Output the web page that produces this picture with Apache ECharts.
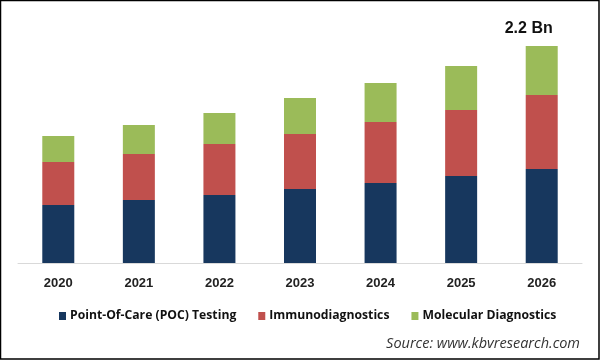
<!DOCTYPE html>
<html><head><meta charset="utf-8">
<script src="https://cdn.jsdelivr.net/npm/echarts@6/dist/echarts.min.js"></script>
<style>html,body{margin:0;padding:0;background:#fff}#c{width:601px;height:361px}</style>
</head><body><div id="c"></div>
<script>
var categories = ['2020','2021','2022','2023','2024','2025','2026'];
var seriesNames = ['Point-Of-Care (POC) Testing','Immunodiagnostics','Molecular Diagnostics'];
var pocTesting = [0.588, 0.639, 0.689, 0.750, 0.811, 0.882, 0.953];
var immunodiagnostics = [0.436, 0.466, 0.517, 0.558, 0.618, 0.669, 0.750];
var molecularDiagnostics = [0.264, 0.294, 0.314, 0.365, 0.395, 0.446, 0.497];
var topLabel = '2.2 Bn';
var colors = ['#17375e', '#c0504d', '#9bbb59'];

var chart = echarts.init(document.getElementById('c'), null, {renderer: 'canvas'});
var values = [pocTesting, immunodiagnostics, molecularDiagnostics];
var series = values.map(function (arr, i) {
  var s = {
    name: seriesNames[i], type: 'bar', stack: 'total', data: arr,
    barWidth: 32, itemStyle: {color: colors[i]}
  };
  if (i === 2) {
    s.label = {
      show: true, position: 'top', distance: 9, offset: [-13, 0],
      fontFamily: 'Liberation Sans', fontWeight: 'bold', fontSize: 16, color: '#111',
      formatter: function (p) { return p.dataIndex === categories.length - 1 ? topLabel : ''; }
    };
  }
  return s;
});
chart.setOption({
  animation: false,
  grid: {left: 18, right: 19, top: 16.4, bottom: 98, containLabel: false},
  xAxis: {
    type: 'category', data: categories,
    axisLine: {lineStyle: {color: '#d9d9d9', width: 1}},
    axisTick: {show: false},
    axisLabel: {margin: 14, fontFamily: 'Liberation Sans', fontWeight: 'bold', fontSize: 13, color: '#222'}
  },
  yAxis: {type: 'value', min: 0, max: 2.5, show: false, splitLine: {show: false}},
  legend: {
    left: 54, top: 305, itemWidth: 7, itemHeight: 8, itemGap: 22,
    icon: 'rect',
    textStyle: {fontFamily: 'Open Sans', fontWeight: 'bold', fontSize: 12.2, color: '#111', padding: [0,0,0,-1]},
    data: seriesNames
  },
  graphic: [
    {type: 'text', right: 21, top: 336, style: {text: 'Source: www.kbvresearch.com', font: 'italic 14.5px "Open Sans"', fill: '#333'}},
    {type: 'rect', shape: {x: 0.5, y: 0.5, width: 598.5, height: 358.5}, style: {fill: null, stroke: '#000', lineWidth: 1.5}}
  ],
  series: series
});
</script></body></html>
